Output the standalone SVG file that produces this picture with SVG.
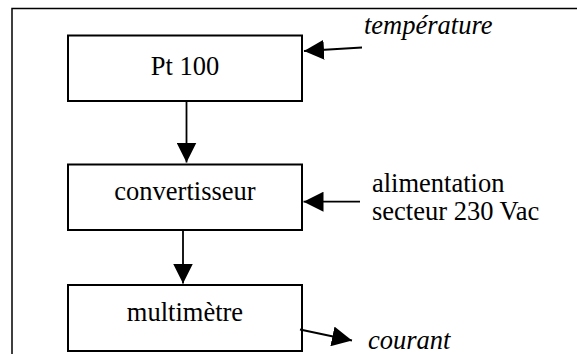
<svg xmlns="http://www.w3.org/2000/svg" width="577" height="354" viewBox="0 0 577 354">
  <style>
    .frame { fill: none; stroke: #000; stroke-width: 1.5; }
    .box { fill: #fff; stroke: #000; stroke-width: 2; }
    .wire { fill: none; stroke: #000; stroke-width: 1.8; }
    text { font-family: 'Liberation Serif', 'DejaVu Serif', serif; font-size: 26.5px; fill: #000; }
    .mid { text-anchor: middle; }
    .it { font-style: italic; }
  </style>
  <defs>
    <marker id="head" viewBox="0 0 20 20" refX="20" refY="10" markerWidth="20" markerHeight="20" markerUnits="userSpaceOnUse" orient="auto">
      <path d="M0,0 L20,10 L0,20 z" fill="#000"/>
    </marker>
  </defs>

  <!-- outer frame: top and left edges -->
  <path class="frame" d="M12,354 V8.5 H577"/>

  <g id="pt100">
    <rect class="box" x="68" y="35.5" width="234" height="65.5"/>
    <text class="mid" x="185" y="75">Pt 100</text>
  </g>

  <g id="convertisseur">
    <rect class="box" x="68" y="164.5" width="234" height="65.5"/>
    <text class="mid" x="185" y="200">convertisseur</text>
  </g>

  <g id="multimetre">
    <rect class="box" x="68" y="285" width="234" height="66"/>
    <text class="mid" x="185" y="321">multimètre</text>
  </g>

  <g id="temperature">
    <text class="it" x="364" y="34">température</text>
  </g>

  <g id="alimentation">
    <text x="372" y="192">alimentation</text>
    <text x="372" y="220">secteur 230 Vac</text>
  </g>

  <g id="courant">
    <text class="it" x="368" y="349">courant</text>
  </g>

  <g id="connectors">
    <line class="wire" x1="362" y1="47.5" x2="304" y2="51" marker-end="url(#head)"/>
    <line class="wire" x1="186.5" y1="101" x2="186.5" y2="162.5" marker-end="url(#head)"/>
    <line class="wire" x1="360" y1="201.7" x2="303.5" y2="201.7" marker-end="url(#head)"/>
    <line class="wire" x1="183" y1="230" x2="183" y2="283.5" marker-end="url(#head)"/>
    <line class="wire" x1="300" y1="329.5" x2="352" y2="340.5" marker-end="url(#head)"/>
  </g>
</svg>
